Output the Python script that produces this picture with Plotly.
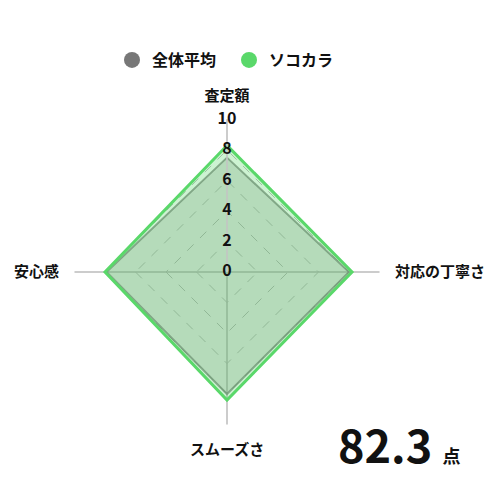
import plotly.graph_objects as go

categories = ["査定額", "対応の丁寧さ", "スムーズさ", "安心感"]
avg_values = [7.5, 8.0, 8.0, 7.9]
sokokara_values = [8.3, 8.2, 8.4, 8.0]
series_names = ["全体平均", "ソコカラ"]
score_text = "82.3"
tick_vals = [0, 2, 4, 6, 8, 10]

font_family = "Noto Sans CJK JP"
gray = "#777777"
green = "#5ad86a"

fig = go.Figure()

# closed polygons
theta = categories + categories[:1]

fig.add_trace(go.Scatterpolar(
    r=avg_values + avg_values[:1], theta=theta, mode="lines", fill="toself",
    fillcolor="rgba(120,120,120,0.25)", line=dict(color="rgba(110,110,110,0.7)", width=2),
    showlegend=False, hoverinfo="skip"))
fig.add_trace(go.Scatterpolar(
    r=sokokara_values + sokokara_values[:1], theta=theta, mode="lines", fill="toself",
    fillcolor="rgba(90,216,106,0.3)", line=dict(color=green, width=3),
    showlegend=False, hoverinfo="skip"))

# radial tick labels centred on the top spoke (on an overlay polar)
fig.add_trace(go.Scatterpolar(
    r=tick_vals, theta=[0] * len(tick_vals), thetaunit="degrees", mode="text",
    text=[str(v) for v in tick_vals], textposition="middle center",
    textfont=dict(family=font_family, size=16, color="#111111", weight=700),
    showlegend=False, hoverinfo="skip", subplot="polar2"))

# legend entries (big dots)
for name, col in zip(series_names, [gray, green]):
    fig.add_trace(go.Scatterpolar(r=[None], theta=[categories[0]], mode="markers",
                                  marker=dict(size=16, color=col), name=name))

polar_domain = dict(x=[0.133, 0.743], y=[0.167, 0.777])

fig.update_layout(
    width=500, height=500,
    margin=dict(l=0, r=0, t=0, b=0),
    paper_bgcolor="white",
    font=dict(family=font_family, color="#111111"),
    showlegend=True,
    legend=dict(orientation="h", x=0.208, xanchor="left", y=0.896, yanchor="middle",
                font=dict(size=16, weight="bold"), itemsizing="trace",
                entrywidth=72, entrywidthmode="pixels"),
    polar=dict(
        domain=polar_domain,
        bgcolor="white",
        gridshape="linear",
        radialaxis=dict(range=[0, 10], tickvals=tick_vals, angle=90,
                        showticklabels=False,
                        showline=True, linecolor="#cccccc", linewidth=1.5,
                        gridcolor="#bbbbbb", griddash="dash", gridwidth=1,
                        ticks=""),
        angularaxis=dict(rotation=90, direction="clockwise",
                         showline=False, gridcolor="#cccccc", gridwidth=1.5,
                         ticks="outside", ticklen=12, tickcolor="rgba(0,0,0,0)",
                         tickfont=dict(size=15, weight="bold", color="#111111")),
    ),
    polar2=dict(
        domain=polar_domain,
        bgcolor="rgba(0,0,0,0)",
        radialaxis=dict(range=[0, 10], visible=False),
        angularaxis=dict(rotation=90, direction="clockwise", visible=False),
    ),
    annotations=[
        dict(x=0.782, y=0.13, xref="paper", yref="paper", xanchor="center", yanchor="middle",
             text=f"<b>{score_text}</b> <b><span style='font-size:18px'>点</span></b>",
             showarrow=False, font=dict(size=45, color="#111111")),
    ],
)

fig.write_html("out.html")
